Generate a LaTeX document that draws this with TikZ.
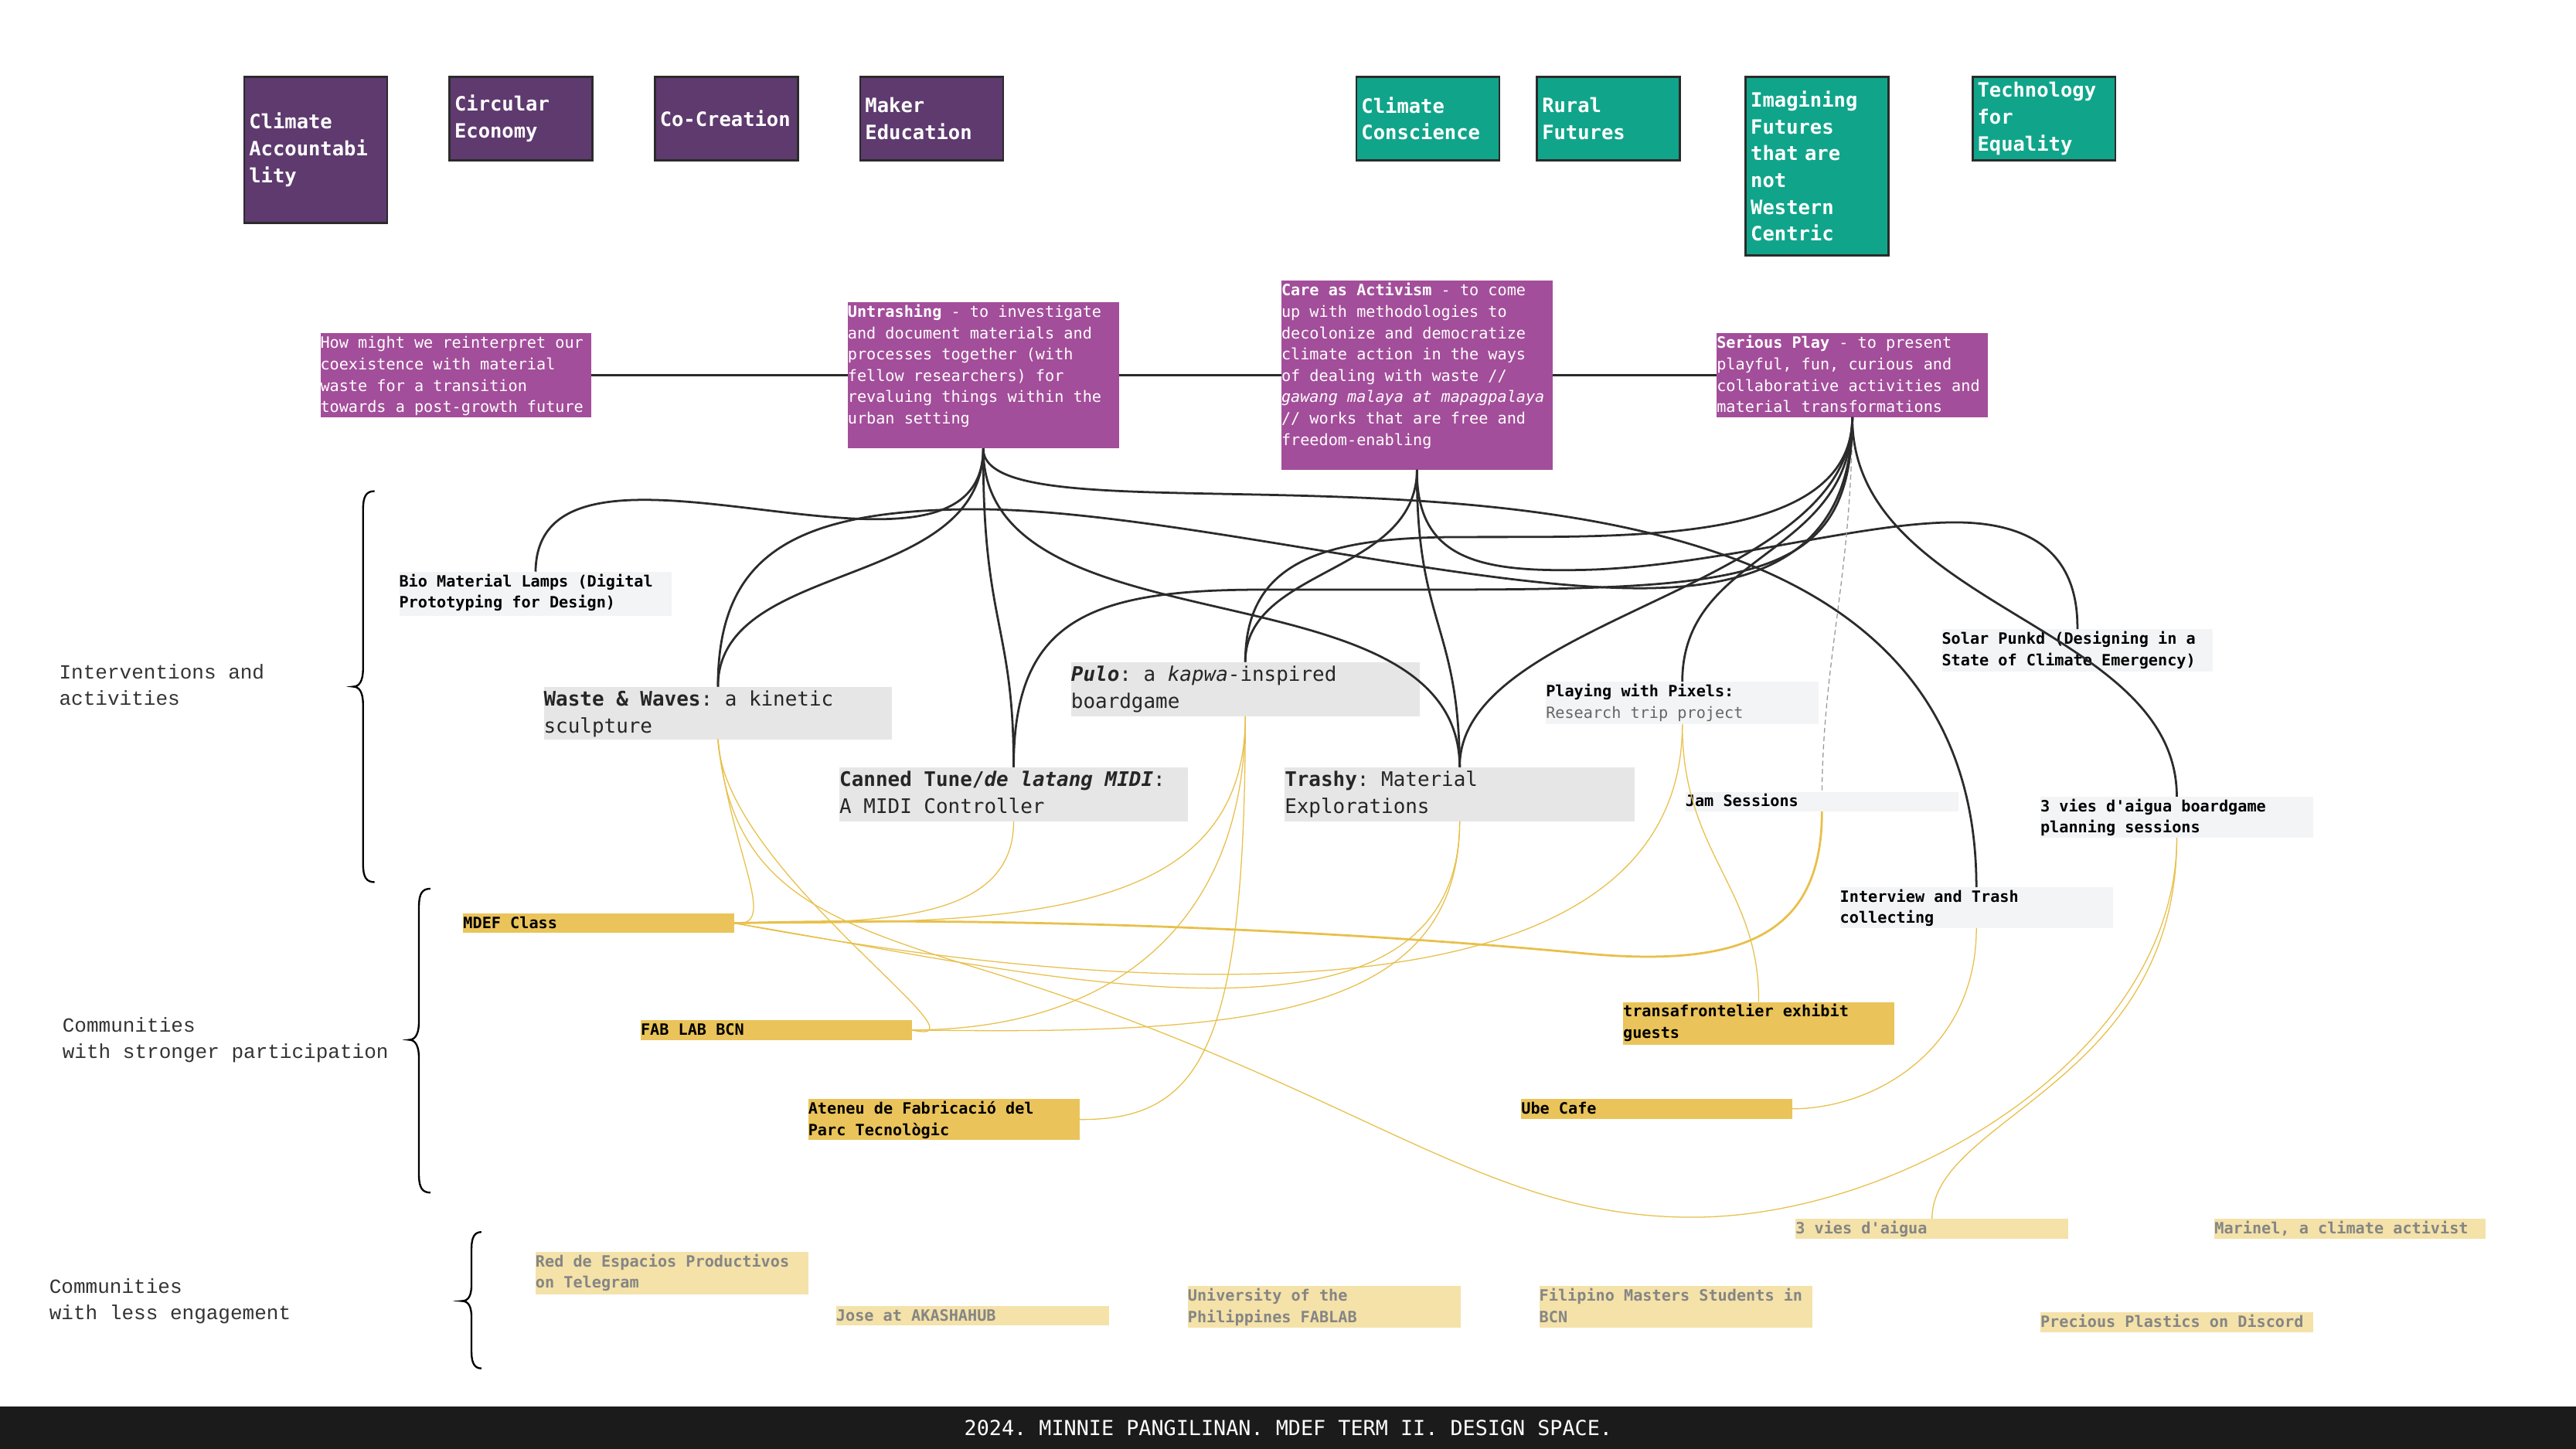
\documentclass[tikz,border=0pt]{standalone}
\usepackage{fontspec}
\setmonofont{DejaVu Sans Mono}
\newfontfamily\lmono{Liberation Mono}
\definecolor{dpurp}{HTML}{5E3A6E}
\definecolor{tealg}{HTML}{10A58A}
\definecolor{mag}{HTML}{A34E9A}
\definecolor{gbox}{HTML}{E6E6E6}
\definecolor{lbox}{HTML}{F3F4F6}
\definecolor{ybox}{HTML}{EAC45A}
\definecolor{pbox}{HTML}{F4E2A9}
\definecolor{ptext}{HTML}{858585}
\definecolor{yline}{HTML}{E8C04A}
\definecolor{bline}{HTML}{2B2B2B}
\definecolor{footc}{HTML}{1B1B1B}
\newcommand\tb[3]{\parbox[t][#2pt][t]{#1pt}{\raggedright\strut#3}}
\newcommand\fsA{\ttfamily\bfseries\fontsize{12}{16.3}\selectfont}
\newcommand\fsS{\ttfamily\fontsize{9.5}{13}\selectfont}
\newcommand\fsL{\ttfamily\fontsize{12.2}{16.5}\selectfont}
\tikzset{
  topbox/.style={draw=bline, line width=1.3pt, anchor=north west, minimum width=87pt,
    text width=81pt, inner xsep=3pt, inner ysep=0pt, align=left, text=white, font=\fsA},
  bx/.style={anchor=north west, inner sep=0pt, outer sep=0pt},
  blk/.style={draw=bline, line width=1.3pt},
  dsh/.style={draw=black!40, line width=0.6pt, dash pattern=on 3pt off 2pt},
  yl/.style={draw=yline, line width=0.6pt},
  ylt/.style={draw=yline, line width=1.3pt},
  brc/.style={draw=black, line width=1.1pt},
  hline/.style={draw=bline, line width=1.3pt}
}
\begin{document}
\begin{tikzpicture}[x=1pt,y=-1pt]
\useasboundingbox (0,0) rectangle (1568,882);
\fill[white] (0,0) rectangle (1568,882);

% top category boxes
\node[topbox, fill=dpurp, minimum height=89pt] (cacc) at (148,46) {Climate\\Accountabi\\lity};
\node[topbox, fill=dpurp, minimum height=51pt] (circ) at (273,46) {Circular\\Economy};
\node[topbox, fill=dpurp, minimum height=51pt] (cocr) at (398,46) {Co-Creation};
\node[topbox, fill=dpurp, minimum height=51pt] (maked) at (523,46) {Maker\\Education};
\node[topbox, fill=tealg, minimum height=51pt] (ccon) at (825,46) {Climate\\Conscience};
\node[topbox, fill=tealg, minimum height=51pt] (rural) at (935,46) {Rural\\Futures};
\node[topbox, fill=tealg, minimum height=109pt] (imag) at (1062,46) {Imagining\\Futures\\that are\\not\\Western\\Centric};
\node[topbox, fill=tealg, minimum height=51pt] (tech) at (1200,46) {Technology\\for\\Equality};

% purple row
\node[bx, fill=mag, text=white] (hm) at (195,203) {\fsS\tb{165}{51}{How might we reinterpret our\\coexistence with material\\waste for a transition\\towards a post-growth future}};
\node[bx, fill=mag, text=white] (un) at (516,184) {\fsS\tb{165}{89}{\textbf{Untrashing} - to investigate\\and document materials and\\processes together (with\\fellow researchers) for\\revaluing things within the\\urban setting}};
\node[bx, fill=mag, text=white] (care) at (780,171) {\fsS\tb{165}{115}{\textbf{Care as Activism} - to come\\up with methodologies to\\decolonize and democratize\\climate action in the ways\\of dealing with waste //\\\textit{gawang malaya at mapagpalaya}\\// works that are free and\\freedom-enabling}};
\node[bx, fill=mag, text=white] (sp) at (1045,203) {\fsS\tb{165}{51}{\textbf{Serious Play} - to present\\playful, fun, curious and\\collaborative activities and\\material transformations}};
\draw[hline] (hm.east) -- (un.west);
\draw[hline] (un.east) -- (care.west);
\draw[hline] (care.east) -- (sp.west);

% interventions
\node[bx, fill=lbox, text=black] (bio) at (243,348) {\fsS\bfseries\tb{166}{27}{Bio Material Lamps (Digital\\Prototyping for Design)}};
\node[bx, fill=gbox, text=black!85] (ww) at (331,418) {\fsL\tb{212}{32}{\textbf{Waste \& Waves}: a kinetic\\sculpture}};
\node[bx, fill=gbox, text=black!85] (ct) at (511,467) {\fsL\tb{212}{33}{\textbf{Canned Tune/\textit{de latang MIDI}}:\\A MIDI Controller}};
\node[bx, fill=gbox, text=black!85] (pu) at (652,403) {\fsL\tb{212}{33}{\textbf{\textit{Pulo}}: a \textit{kapwa}-inspired\\boardgame}};
\node[bx, fill=gbox, text=black!85] (tr) at (782,467) {\fsL\tb{213}{33}{\textbf{Trashy}: Material\\Explorations}};
\node[bx, fill=lbox, text=black] (pp) at (941,415) {\fsS\tb{166}{26}{\textbf{Playing with Pixels:}\\\textcolor{black!60}{Research trip project}}};
\node[bx, fill=lbox, text=black] (js) at (1026,482) {\fsS\bfseries\tb{166}{12}{Jam Sessions}};
\node[bx, fill=lbox, text=black] (spk) at (1182,383) {\fsS\bfseries\tb{165}{26}{Solar Punkd (Designing in a\\State of Climate Emergency)}};
\node[bx, fill=lbox, text=black] (tv) at (1242,485) {\fsS\bfseries\tb{166}{25}{3 vies d'aigua boardgame\\planning sessions}};
\node[bx, fill=lbox, text=black] (it) at (1120,540) {\fsS\bfseries\tb{166}{25}{Interview and Trash\\collecting}};

% communities with stronger participation
\node[bx, fill=ybox, text=black] (md) at (282,556) {\fsS\bfseries\tb{165}{12}{MDEF Class}};
\node[bx, fill=ybox, text=black] (fl) at (390,621) {\fsS\bfseries\tb{165}{12}{FAB LAB BCN}};
\node[bx, fill=ybox, text=black] (at) at (492,669) {\fsS\bfseries\tb{165}{25}{Ateneu de Fabricació del\\Parc Tecnològic}};
\node[bx, fill=ybox, text=black] (tf) at (988,610) {\fsS\bfseries\tb{165}{26}{transafrontelier exhibit\\guests}};
\node[bx, fill=ybox, text=black] (ub) at (926,669) {\fsS\bfseries\tb{165}{12}{Ube Cafe}};

% communities with less engagement
\node[bx, fill=pbox, text=ptext] (re) at (326,762) {\fsS\bfseries\tb{166}{26}{Red de Espacios Productivos\\on Telegram}};
\node[bx, fill=pbox, text=ptext] (jo) at (509,795) {\fsS\bfseries\tb{166}{12}{Jose at AKASHAHUB}};
\node[bx, fill=pbox, text=ptext] (upf) at (723,783) {\fsS\bfseries\tb{166}{25}{University of the\\Philippines FABLAB}};
\node[bx, fill=pbox, text=ptext] (fm) at (937,783) {\fsS\bfseries\tb{166}{25}{Filipino Masters Students in\\BCN}};
\node[bx, fill=pbox, text=ptext] (va) at (1093,742) {\fsS\bfseries\tb{166}{12}{3 vies d'aigua}};
\node[bx, fill=pbox, text=ptext] (ma) at (1348,742) {\fsS\bfseries\tb{165}{12}{Marinel, a climate activist}};
\node[bx, fill=pbox, text=ptext] (ppd) at (1242,799) {\fsS\bfseries\tb{166}{12}{Precious Plastics on Discord}};

% side labels
\node[bx, text=black!80] (lab1) at (36,402) {\lmono\fontsize{12.25}{16}\selectfont\tb{200}{34}{Interventions and\\activities}};
\node[bx, text=black!80] (lab2) at (38,617) {\lmono\fontsize{12.25}{16}\selectfont\tb{215}{34}{Communities\\with stronger participation}};
\node[bx, text=black!80] (lab3) at (30,776) {\lmono\fontsize{12.25}{16}\selectfont\tb{200}{34}{Communities\\with less engagement}};

% braces
\draw[brc] (228,299) .. controls (223,299) and (221,302) .. (221,310) -- (221,407) .. controls (221,414) and (219,418) .. (215,418) .. controls (219,418) and (221,422) .. (221,429) -- (221,526) .. controls (221,534) and (223,537) .. (228,537);
\draw[brc] (262,541) .. controls (257,541) and (255,544) .. (255,552) -- (255,622) .. controls (255,629) and (253,633) .. (249,633) .. controls (253,633) and (255,637) .. (255,644) -- (255,715) .. controls (255,723) and (257,726) .. (262,726);
\draw[brc] (293,750) .. controls (289,750) and (287,753) .. (287,760) -- (287,782) .. controls (287,789) and (285,792) .. (281,792) .. controls (285,792) and (287,795) .. (287,802) -- (287,823) .. controls (287,830) and (289,833) .. (293,833);

% black connectors
\draw[blk] (un.south) .. controls (598,380) and (327,240) .. (bio.north);
\draw[blk] (un.south) .. controls (598,360) and (437,340) .. (ww.north);
\draw[blk] (un.south) .. controls (598,380) and (617,380) .. (ct.north);
\draw[blk] (un.south) .. controls (598,400) and (888,340) .. (tr.north);
\draw[blk] (un.south) .. controls (598,350) and (1203,200) .. (it.north);
\draw[blk] (ww.north) .. controls (437,340) and (480,311) .. (590,310) .. controls (700,309) and (880,356) .. (990,358) .. controls (1080,360) and (1127,330) .. (sp.south);
\draw[blk] (care.south) .. controls (862,350) and (758,345) .. (pu.north);
\draw[blk] (care.south) .. controls (862,380) and (888,380) .. (tr.north);
\draw[blk] (care.south) .. controls (862,340) and (900,348) .. (960,347) .. controls (1040,346) and (1130,318) .. (1190,318) .. controls (1240,318) and (1265,340) .. (spk.north);
\draw[blk] (sp.south) .. controls (1127,370) and (1325,380) .. (tv.north);
\draw[dsh] (sp.south) .. controls (1127,350) and (1110,400) .. (js.north);
\draw[blk] (sp.south) .. controls (1127,340) and (1024,335) .. (pp.north);
\draw[blk] (sp.south) .. controls (1127,360) and (888,375) .. (tr.north);
\draw[blk] (pu.north) .. controls (758,345) and (800,328) .. (880,327) .. controls (980,326) and (1127,335) .. (sp.south);
\draw[blk] (ct.north) .. controls (617,380) and (660,360) .. (760,359) .. controls (1050,358) and (1127,370) .. (sp.south);

% yellow connectors
\draw[yl] (ww.south) .. controls (445,520) and (475,565) .. (md.east);
\draw[yl] (ww.south) .. controls (440,530) and (610,640) .. (fl.east);
\draw[yl] (ww.south) .. controls (445,540) and (500,560) .. (597,590) .. controls (830,662) and (900,741) .. (1030,741) .. controls (1160,741) and (1325,640) .. (tv.south);
\draw[yl] (md.east) .. controls (540,562) and (617,560) .. (ct.south);
\draw[yl] (md.east) .. controls (620,562) and (758,560) .. (pu.south);
\draw[ylt] (md.east) .. controls (600,558) and (800,565) .. (960,580) .. controls (1060,590) and (1109,570) .. (js.south);
\draw[yl] (md.east) .. controls (620,590) and (888,660) .. (tr.south);
\draw[yl] (md.east) .. controls (650,600) and (1024,640) .. (pp.south);
\draw[yl] (fl.east) .. controls (680,627) and (758,560) .. (pu.south);
\draw[yl] (fl.east) .. controls (760,630) and (888,620) .. (tr.south);
\draw[yl] (at.east) .. controls (730,682) and (758,640) .. (pu.south);
\draw[yl] (pp.south) .. controls (1024,520) and (1071,540) .. (tf.north);
\draw[yl] (it.south) .. controls (1203,640) and (1140,675) .. (ub.east);
\draw[yl] (tv.south) .. controls (1325,660) and (1176,680) .. (va.north);

% footer
\node[anchor=north west, fill=footc, minimum width=1568pt, minimum height=26pt, inner sep=0pt, text=white, font=\ttfamily\fontsize{12.6}{14}\selectfont] (foot) at (0,856) {2024. MINNIE PANGILINAN. MDEF TERM II. DESIGN SPACE.};
\end{tikzpicture}
\end{document}
